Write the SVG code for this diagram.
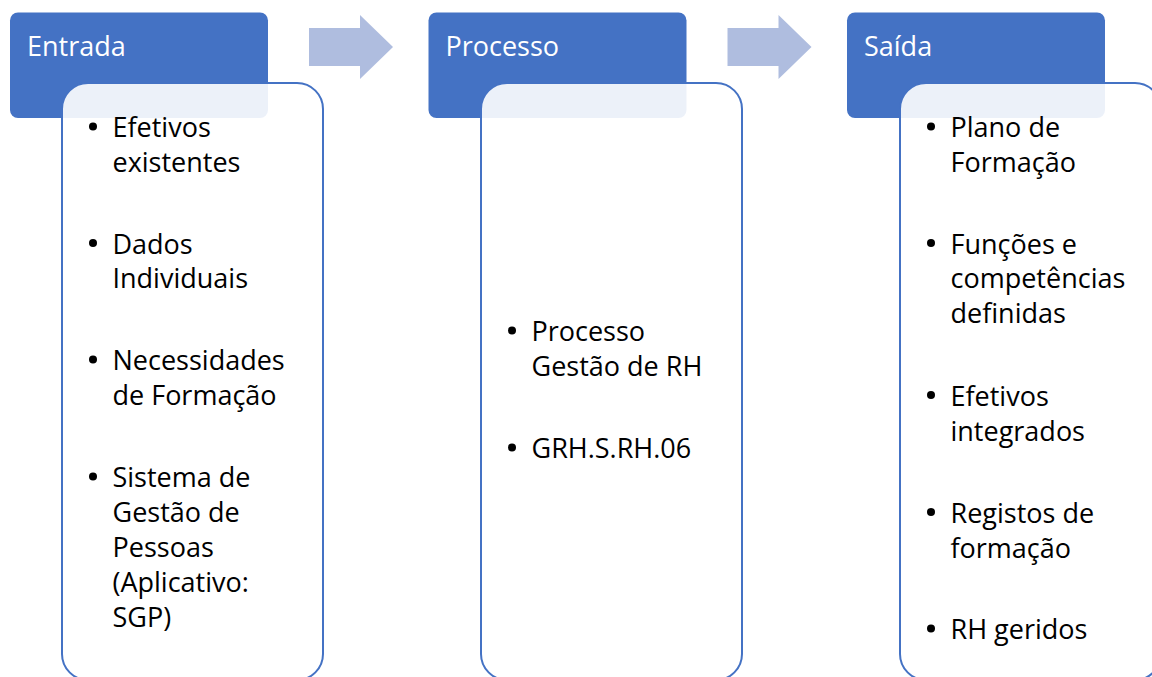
<svg xmlns="http://www.w3.org/2000/svg" width="1152" height="677" viewBox="0 0 1152 677">
<style>
.hdr{fill:#4472C4;}
.body{fill:#FFFFFF;fill-opacity:0.9;stroke:#4472C4;stroke-width:2;}
.htxt{font-family:"Open Sans","Liberation Sans",sans-serif;font-size:27px;fill:#FFFFFF;}
.btxt{font-family:"Open Sans","Liberation Sans",sans-serif;font-size:27px;fill:#000000;}
.bul{fill:#000000;}
.arr{fill:#AFBDDF;}
</style>
<rect width="1152" height="677" fill="#FFFFFF"/>
<g id="connectors">
<path class="arr" d="M309,28 H360 V15 L393,47 L360,79 V66 H309 Z"/>
<path class="arr" d="M727.5,28 H778.5 V15 L811.5,47 L778.5,79 V66 H727.5 Z"/>
</g>
<g id="entrada">
<rect class="hdr" x="10" y="12.5" width="258" height="105.5" rx="8"/>
<text class="htxt" x="27" y="56">Entrada</text>
<rect class="body" x="62" y="83" width="261" height="597" rx="26"/>
<circle class="bul" cx="93" cy="126.5" r="4"/>
<text class="btxt" x="112.5" y="137">Efetivos</text>
<text class="btxt" x="112.5" y="171.5">existentes</text>
<circle class="bul" cx="93" cy="243" r="4"/>
<text class="btxt" x="112.5" y="253.5">Dados</text>
<text class="btxt" x="112.5" y="288">Individuais</text>
<circle class="bul" cx="93" cy="359.5" r="4"/>
<text class="btxt" x="112.5" y="370">Necessidades</text>
<text class="btxt" x="112.5" y="405">de Formação</text>
<circle class="bul" cx="93" cy="476.5" r="4"/>
<text class="btxt" x="112.5" y="487">Sistema de</text>
<text class="btxt" x="112.5" y="522">Gestão de</text>
<text class="btxt" x="112.5" y="557">Pessoas</text>
<text class="btxt" x="112.5" y="592">(Aplicativo:</text>
<text class="btxt" x="112.5" y="627">SGP)</text>
</g>
<g id="processo">
<rect class="hdr" x="428.5" y="12.5" width="258" height="105.5" rx="8"/>
<text class="htxt" x="445.5" y="56">Processo</text>
<rect class="body" x="481" y="83" width="261" height="597" rx="26"/>
<circle class="bul" cx="512" cy="330.5" r="4"/>
<text class="btxt" x="531.5" y="341">Processo</text>
<text class="btxt" x="531.5" y="376">Gestão de RH</text>
<circle class="bul" cx="512" cy="447.5" r="4"/>
<text class="btxt" x="531.5" y="458">GRH.S.RH.06</text>
</g>
<g id="saida">
<rect class="hdr" x="847" y="12.5" width="258" height="105.5" rx="8"/>
<text class="htxt" x="864" y="56">Saída</text>
<rect class="body" x="900" y="83" width="261" height="597" rx="26"/>
<circle class="bul" cx="931" cy="126.5" r="4"/>
<text class="btxt" x="950.5" y="137">Plano de</text>
<text class="btxt" x="950.5" y="171.5">Formação</text>
<circle class="bul" cx="931" cy="243" r="4"/>
<text class="btxt" x="950.5" y="253.5">Funções e</text>
<text class="btxt" x="950.5" y="288">competências</text>
<text class="btxt" x="950.5" y="323">definidas</text>
<circle class="bul" cx="931" cy="395" r="4"/>
<text class="btxt" x="950.5" y="405.5">Efetivos</text>
<text class="btxt" x="950.5" y="440.5">integrados</text>
<circle class="bul" cx="931" cy="512" r="4"/>
<text class="btxt" x="950.5" y="522.5">Registos de</text>
<text class="btxt" x="950.5" y="557.5">formação</text>
<circle class="bul" cx="931" cy="628.5" r="4"/>
<text class="btxt" x="950.5" y="639">RH geridos</text>
</g>
</svg>
